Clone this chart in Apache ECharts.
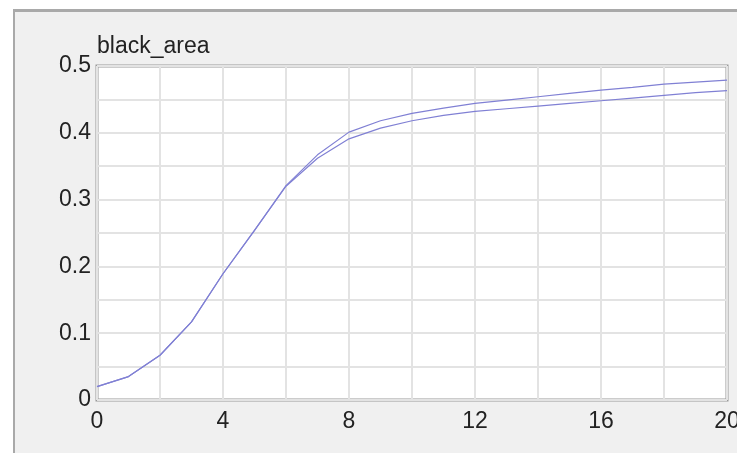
<!DOCTYPE html>
<html>
<head>
<meta charset="utf-8">
<script src="https://cdn.jsdelivr.net/npm/echarts@6/dist/echarts.min.js"></script>
<style>
  html, body { margin: 0; padding: 0; background: #ffffff; }
  #panel {
    position: absolute; left: 13px; top: 9px; width: 740px; height: 460px;
    background: #f0f0f0; border-top: 3px solid #a9a9a9; border-left: 2px solid #a9a9a9;
  }
  #chart { position: absolute; left: 0; top: 0; width: 737px; height: 453px; }
</style>
</head>
<body>
<div id="panel"></div>
<div id="chart"></div>
<script>
// Time steps (x) and the two black_area runs
const steps = [0, 1, 2, 3, 4, 5, 6, 7, 8, 9, 10, 11, 12, 13, 14, 15, 16, 17, 18, 19, 20];
const runUpper = [0.020, 0.035, 0.067, 0.117, 0.189, 0.254, 0.321, 0.367, 0.401, 0.418, 0.429, 0.437, 0.444, 0.449, 0.454, 0.459, 0.464, 0.468, 0.473, 0.476, 0.479];
const runLower = [0.020, 0.035, 0.067, 0.117, 0.189, 0.254, 0.320, 0.362, 0.391, 0.407, 0.418, 0.426, 0.432, 0.436, 0.440, 0.444, 0.448, 0.452, 0.456, 0.460, 0.463];
const chartTitle = 'black_area';

const font = '"Liberation Sans", Arial, Helvetica, sans-serif';
const gridColor = '#e3e3e3';
const lineColor = '#8080d4';

const chart = echarts.init(document.getElementById('chart'), null, { renderer: 'canvas' });

function pairs(ys) { return steps.map((x, i) => [x, ys[i]]); }

chart.setOption({
  backgroundColor: 'transparent',
  animation: false,
  title: {
    text: chartTitle,
    left: 92, top: 30,
    textStyle: { fontFamily: font, fontSize: 23, fontWeight: 'normal', color: '#222' }
  },
  grid: {
    left: 97, right: 10, top: 66, bottom: 53,
    outerBoundsMode: 'none', containLabel: false,
    show: true, backgroundColor: '#ffffff', borderColor: '#999999', borderWidth: 3
  },
  xAxis: {
    type: 'value', min: 0, max: 20, interval: 4,
    axisLine: { show: false }, axisTick: { show: false },
    axisLabel: { fontFamily: font, fontSize: 23, color: '#222', margin: 10, hideOverlap: false },
    splitLine: { show: true, lineStyle: { color: gridColor, width: 2 } },
    minorTick: { show: false, splitNumber: 2 },
    minorSplitLine: { show: true, lineStyle: { color: gridColor, width: 2 } }
  },
  yAxis: {
    type: 'value', min: 0, max: 0.5, interval: 0.1,
    axisLine: { show: false }, axisTick: { show: false },
    axisLabel: { fontFamily: font, fontSize: 23, color: '#222', margin: 6,
      formatter: v => (v === 0 ? '0' : v.toFixed(1)) },
    splitLine: { show: true, lineStyle: { color: gridColor, width: 2 } },
    minorTick: { show: false, splitNumber: 2 },
    minorSplitLine: { show: true, lineStyle: { color: gridColor, width: 2 } }
  },
  series: [
    { type: 'line', data: pairs(runUpper), showSymbol: false, smooth: false,
      lineStyle: { color: lineColor, width: 1.2 } },
    { type: 'line', data: pairs(runLower), showSymbol: false, smooth: false,
      lineStyle: { color: lineColor, width: 1.2 } }
  ]
});
</script>
</body>
</html>
